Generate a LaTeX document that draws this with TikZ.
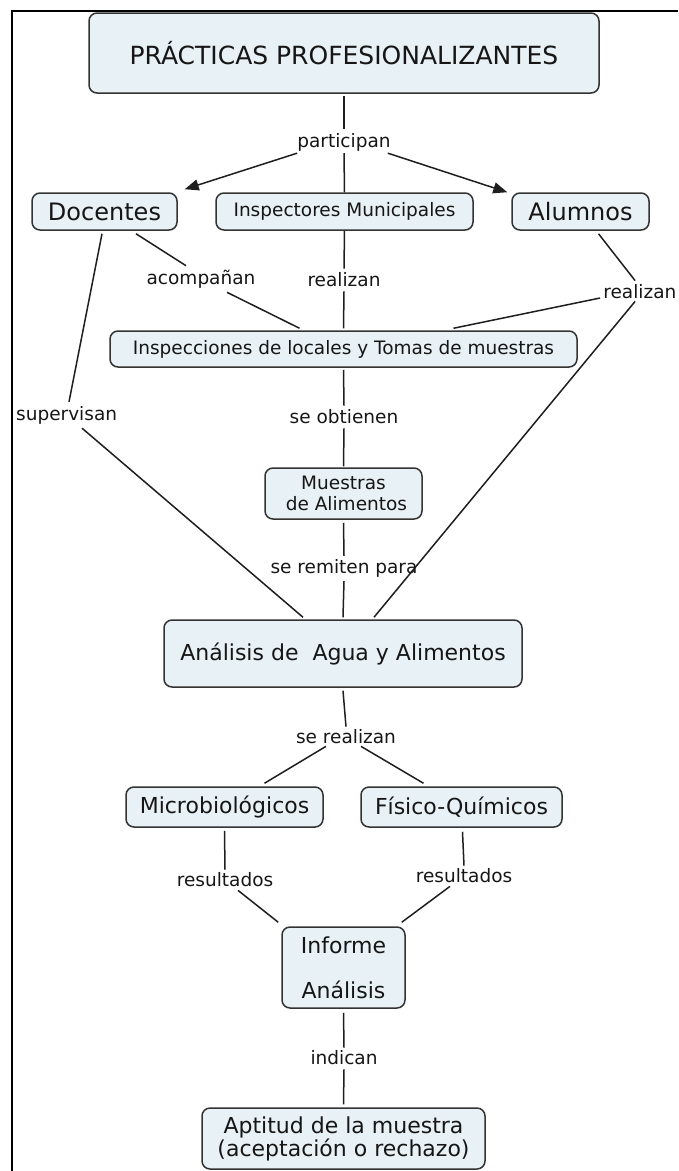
\documentclass[tikz,border=0pt]{standalone}
\usepackage{fontspec}
\setmainfont{DejaVu Sans}
\usetikzlibrary{arrows.meta,calc}
\definecolor{boxfill}{HTML}{E8F1F5}
\definecolor{boxline}{HTML}{333333}
\definecolor{linecol}{HTML}{1E1E1E}
\definecolor{txt}{HTML}{161616}
\newcommand{\labfont}{\fontsize{18.5}{21}\selectfont}
\newcommand{\bigfont}{\fontsize{22}{24}\selectfont}
\tikzset{
  cbox/.style={draw=boxline, fill=boxfill, rounded corners=8pt, line width=1.5pt,
    align=center, inner sep=0pt, text=txt},
  lab/.style={inner sep=2pt, font=\labfont, text=txt},
  conn/.style={line width=1.5pt, draw=linecol},
  arr/.style={conn, -{Triangle[length=14pt,width=11pt]}},
  frame/.style={line width=2.6pt, draw=black}
}
\begin{document}
\begin{tikzpicture}[x=1pt,y=-1pt]
\useasboundingbox (0,0) rectangle (678,1171);
% frame
\coordinate (fa) at (678,11);
\coordinate (fb) at (12,11);
\coordinate (fc) at (12,1171);
\draw[frame] (fa) -- (fb) -- (fc);

% concept boxes
\node[cbox, minimum width=510pt, minimum height=80pt, font=\fontsize{25}{28}\selectfont] (title) at (344,53)
  {\raisebox{-6pt}{PRÁCTICAS PROFESIONALIZANTES}};
\node[cbox, minimum width=145pt, minimum height=37pt, font=\fontsize{24}{26}\selectfont] (doc) at (104.5,211.5) {Docentes};
\node[cbox, minimum width=257pt, minimum height=37pt, font=\labfont] (insp) at (344.5,211.5) {Inspectores Municipales};
\node[cbox, minimum width=137pt, minimum height=37pt, font=\fontsize{24}{26}\selectfont] (alum) at (580.5,211.5) {Alumnos};
\node[cbox, minimum width=467pt, minimum height=36pt, font=\labfont] (inspec) at (343.5,349) {Inspecciones de locales y Tomas de muestras};
\node[cbox, minimum width=157pt, minimum height=51pt, font=\fontsize{18.5}{20.5}\selectfont] (muestras) at (343.5,493.5) {Muestras\\ \ de Alimentos};
\node[cbox, minimum width=358pt, minimum height=67pt, font=\bigfont] (analisis) at (343,653.5) {Análisis de\ \ Agua y Alimentos};
\node[cbox, minimum width=197pt, minimum height=40pt, font=\bigfont] (micro) at (224.5,807) {Microbiológicos};
\node[cbox, minimum width=201pt, minimum height=40pt, font=\bigfont] (fisico) at (461.5,807) {Físico-Químicos};
\node[cbox, minimum width=123pt, minimum height=81pt, font=\fontsize{22}{45}\selectfont] (informe) at (343.5,967.5) {Informe\hspace{8pt}\\ Análisis};
\node[cbox, minimum width=283pt, minimum height=61pt, font=\fontsize{22}{23}\selectfont] (aptitud) at (343.5,1138.5) {Aptitud de la muestra\\(aceptación o rechazo)};

% linking phrases
\node[lab] (part) at (344,142) {participan};
\node[lab] (acomp) at (201,279) {acompañan};
\node[lab] (real1) at (344,280) {realizan};
\node[lab, anchor=east, inner sep=1pt] (real2) at (677.5,292) {realizan};
\node[lab, anchor=west] (superv) at (14,415) {supervisan};
\node[lab] (obt) at (344,417) {se obtienen};
\node[lab] (remit) at (344,568) {se remiten para};
\node[lab] (sereal) at (346,737) {se realizan};
\node[lab] (resL) at (225,880) {resultados};
\node[lab] (resR) at (464,876) {resultados};
\node[lab] (indic) at (344,1058) {indican};

% connectors
\draw[conn] ($(title.south)+(0,2)$) -- ($(part.north)+(0,-2)$);
\draw[arr] ($(part.south west)+(2,0)$) -- ($(doc.north east)+(7,-3)$);
\draw[arr] ($(part.south east)+(-5,0)$) -- ($(alum.north west)+(-4,0)$);
\draw[conn] (part.south) -- (insp.north);

\draw[conn] ($(doc.south)+(31.5,3)$) -- ($(acomp.north)+(-15,-2)$);
\draw[conn] ($(acomp.south)+(26,2)$) -- ($(inspec.north)+(-44,-2)$);

\draw[conn] (insp.south) -- ($(real1.north)+(0,-2)$);
\draw[conn] ($(real1.south)+(0,2)$) -- ($(inspec.north)+(0,-2)$);

\draw[conn] ($(alum.south)+(18,3)$) -- ($(real2.north west)+(33,-3)$);
\draw[conn] ($(real2.west)+(-2,6)$) -- ($(inspec.north)+(110,-2)$);
\draw[conn] ($(real2.south west)+(33,1)$) -- ($(analisis.north)+(31,-2)$);

\draw[conn] ($(doc.south)+(-2.5,3)$) -- ($(superv.north west)+(55,-2)$);
\draw[conn] ($(superv.south west)+(68,2)$) -- ($(analisis.north)+(-40,-2)$);

\draw[conn] ($(inspec.south)+(0,2)$) -- ($(obt.north)+(0,-2)$);
\draw[conn] ($(obt.south)+(0,2)$) -- ($(muestras.north)+(0,-1)$);

\draw[conn] ($(muestras.south)+(0,3)$) -- ($(remit.north)+(0,-1)$);
\draw[conn] ($(remit.south)+(0,2)$) -- ($(analisis.north)+(0,-2)$);

\draw[conn] ($(analisis.south)+(0,3)$) -- ($(sereal.north)+(0,-1)$);
\draw[conn] ($(sereal.south)+(-20,0)$) -- ($(micro.north)+(40,-3)$);
\draw[conn] ($(sereal.south)+(15,0)$) -- ($(fisico.north)+(-38,-3)$);

\draw[conn] ($(micro.south)+(0,3)$) -- ($(resL.north)+(0,-1)$);
\draw[conn] ($(resL.south)+(13,1)$) -- ($(informe.north west)+(-3,-4)$);
\draw[conn] ($(fisico.south)+(1,4)$) -- ($(resR.north)+(0,-1)$);
\draw[conn] ($(resR.south)+(-14,1)$) -- ($(informe.north east)+(-4,-4)$);

\draw[conn] ($(informe.south)+(0,4)$) -- ($(indic.north)+(0,-1)$);
\draw[conn] ($(indic.south)+(0,2)$) -- ($(aptitud.north)+(0,-3)$);
\end{tikzpicture}
\end{document}
